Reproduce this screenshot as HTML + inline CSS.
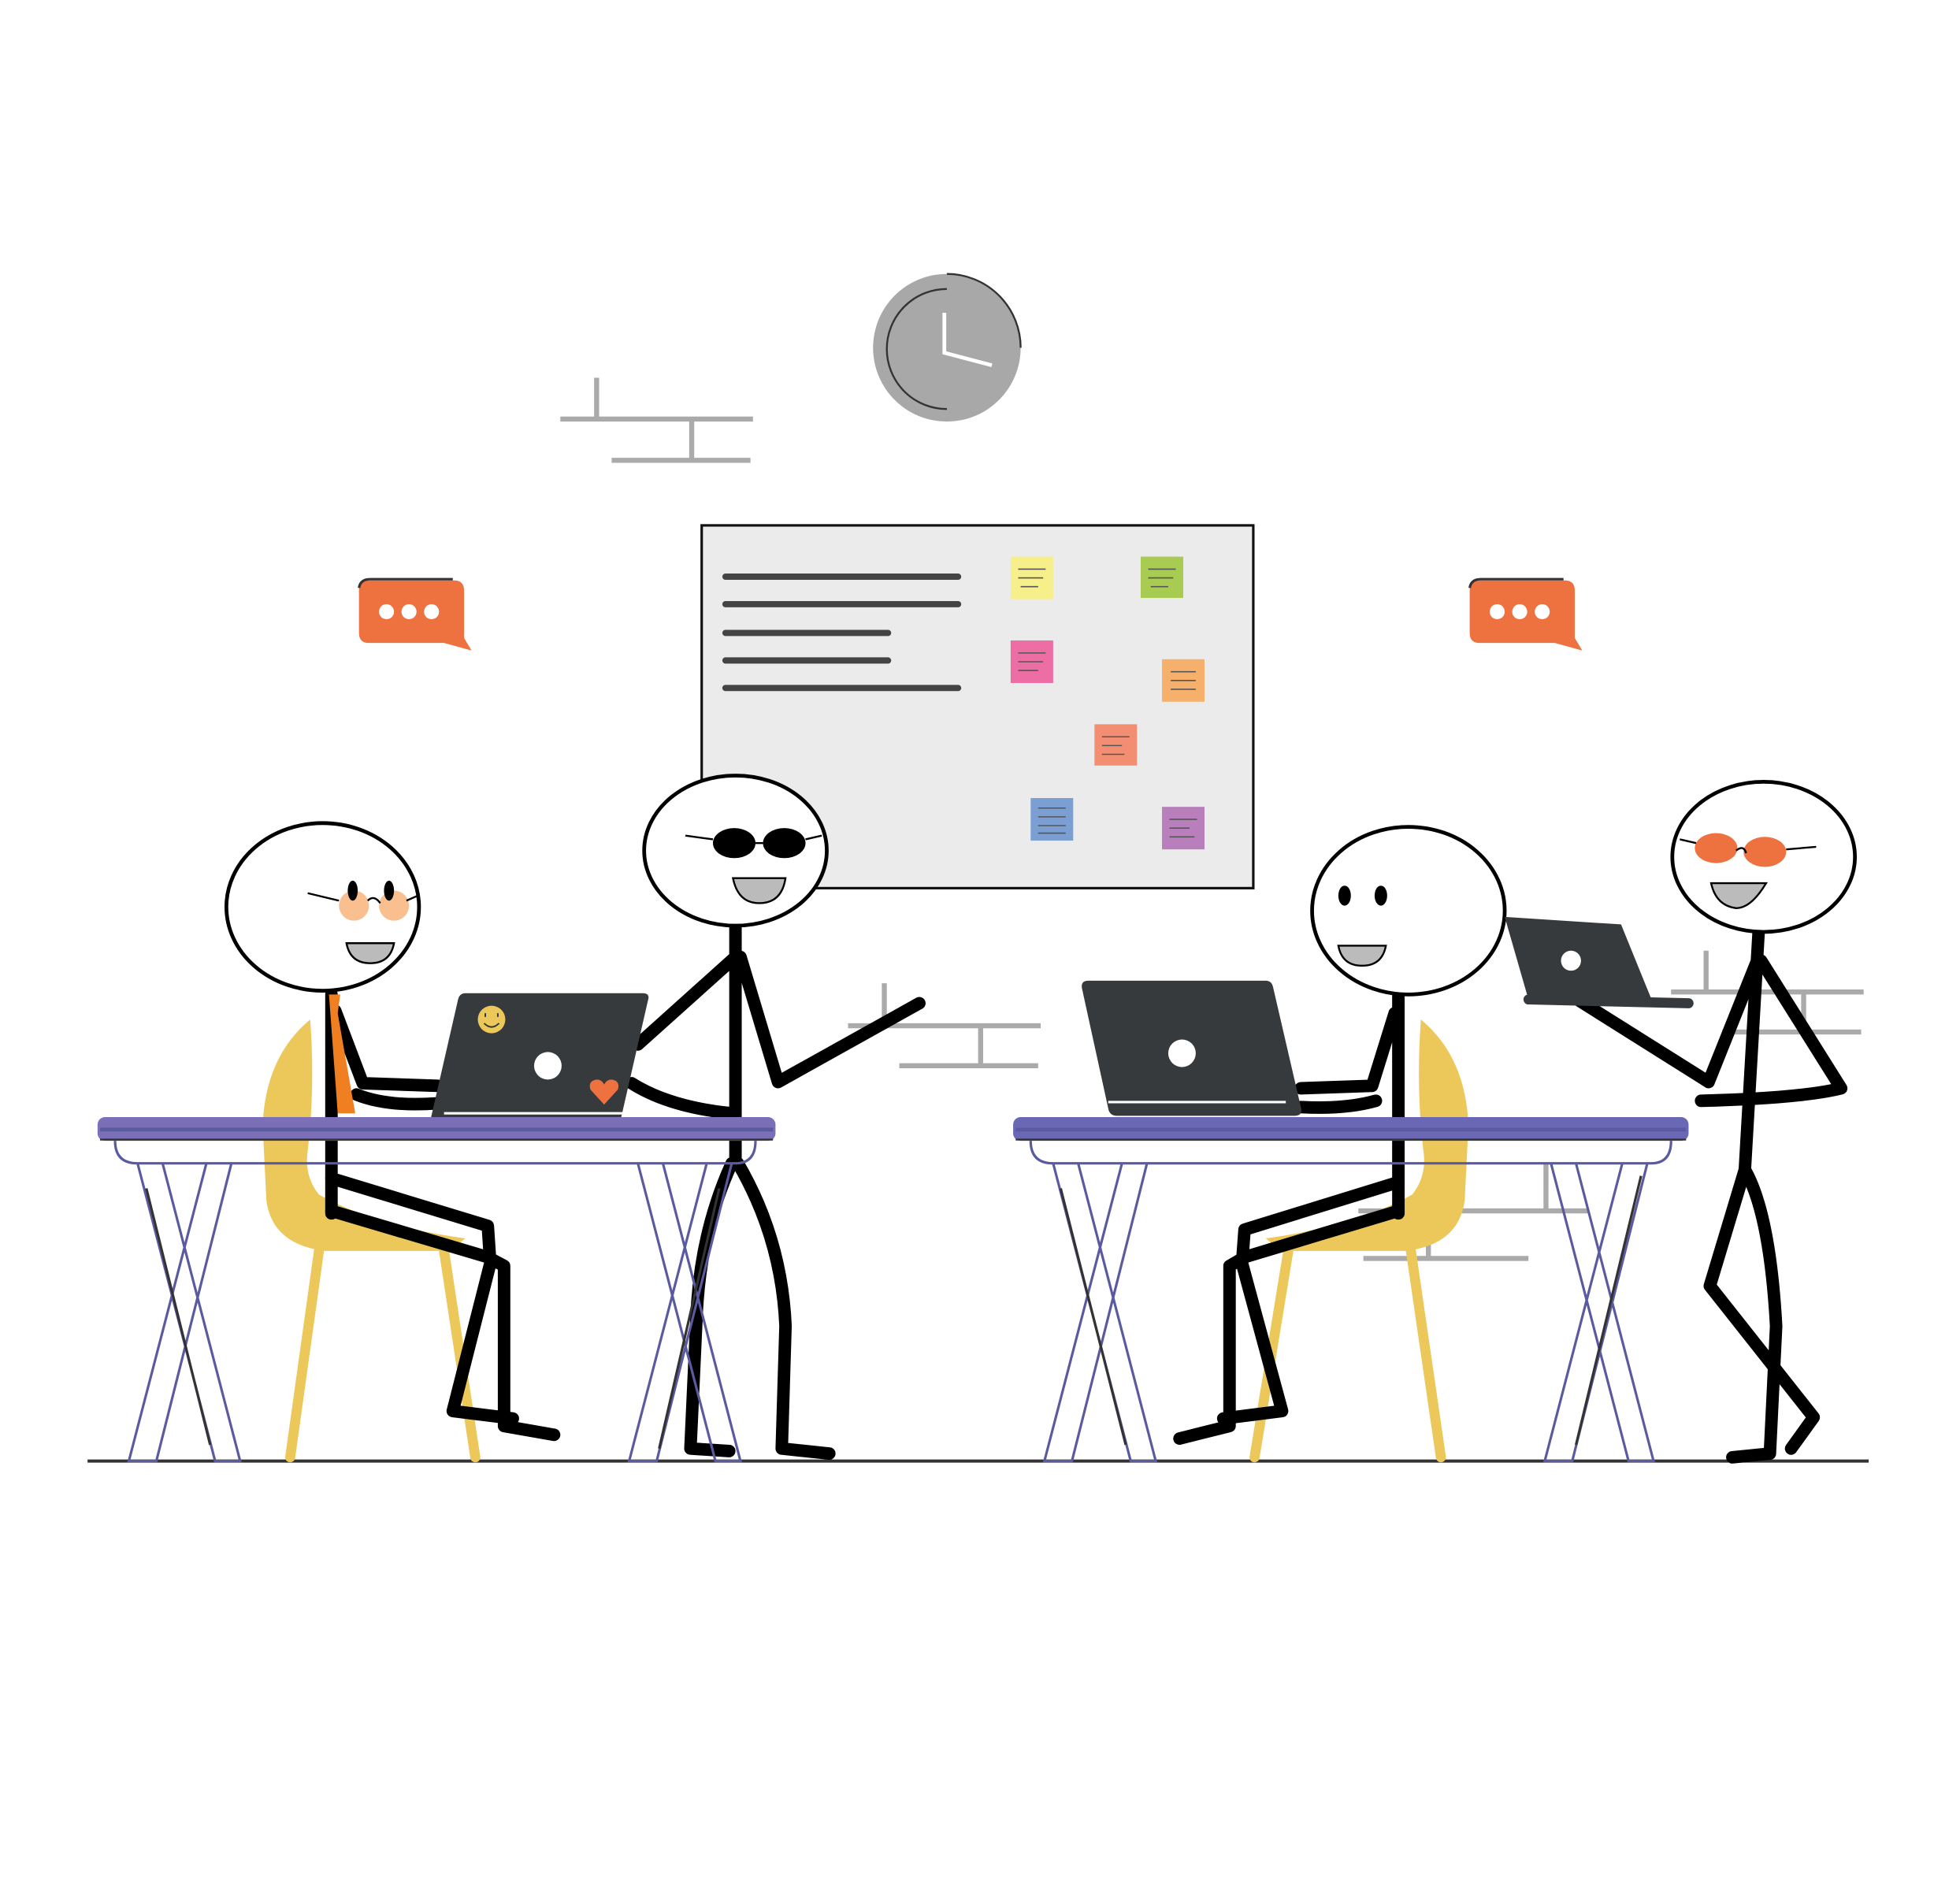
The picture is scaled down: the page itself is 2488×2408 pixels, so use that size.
<!DOCTYPE html>
<html><head><meta charset="utf-8"><style>html,body{margin:0;padding:0;background:#fff}svg{display:block}</style></head>
<body>
<svg width="2488" height="2408" viewBox="0 0 1567 1516.5" preserveAspectRatio="none" xmlns="http://www.w3.org/2000/svg">
<rect width="1567" height="1517" fill="#fff"/>
<g stroke="#aaa" stroke-width="4" fill="none">
<path d="M448 335H602M477 302V335M489 368H600M553 335V368"/>
<path d="M678 820H832M707 786V820M719 852H830M784 820V852"/>
<path d="M1336 793H1490M1364 760V793M1377 825H1488M1442 793V825"/>
<path d="M1086 968H1270M1236 930V968M1090 1006H1222M1142 968V1006"/>
</g>
<circle cx="757" cy="278" r="59" fill="#a8a8a8"/>
<path d="M757 327 A48 48 0 1 1 757 231" stroke="#333" stroke-width="1.5" fill="none"/>
<path d="M757 219 A59 59 0 0 1 816 278" stroke="#333" stroke-width="1.5" fill="none"/>
<path d="M755 250V282L793 292" stroke="#fff" stroke-width="3" fill="none"/>
<rect x="561" y="420" width="441" height="290" fill="#ebebeb" stroke="#111" stroke-width="2"/>
<g stroke="#444" stroke-width="5" stroke-linecap="round">
<path d="M580 461H766M580 483H766M580 506H710M580 528H710M580 550H766"/>
</g>
<rect x="808" y="445" width="34" height="34" fill="#f7f08a"/>
<rect x="912" y="445" width="34" height="33" fill="#a8cc52"/>
<rect x="808" y="512" width="34" height="34" fill="#ec6ea4"/>
<rect x="929" y="527" width="34" height="34" fill="#f6b06c"/>
<rect x="875" y="579" width="34" height="33" fill="#f48e72"/>
<rect x="824" y="638" width="34" height="34" fill="#7b9ed3"/>
<rect x="929" y="645" width="34" height="34" fill="#b87fbc"/>
<g stroke="#555" stroke-width="1">
<path d="M814 455H836M814 462H834M816 469H830"/>
<path d="M918 455H940M918 462H938M920 469H934"/>
<path d="M814 522H836M814 529H834M814 536H830"/>
<path d="M936 537H956M936 544H956M936 551H956"/>
<path d="M881 589H903M881 596H897M881 603H899"/>
<path d="M830 646H852M830 653H852M830 660H852M830 666H852"/>
<path d="M935 655H957M935 662H951M935 669H955"/>
</g>
<g fill="#ee7140">
<path d="M295 464H363Q371 464 371 472V510L377 520L355 514H295Q287 514 287 506V472Q287 464 295 464Z"/>
<path d="M1183 464H1251Q1259 464 1259 472V510L1265 520L1243 514H1183Q1175 514 1175 506V472Q1175 464 1183 464Z"/>
</g>
<path d="M287 470Q288 463 296 463H362" stroke="#333" stroke-width="2" fill="none"/>
<path d="M1175 470Q1176 463 1184 463H1250" stroke="#333" stroke-width="2" fill="none"/>
<g fill="#fff"><circle cx="309" cy="489" r="6"/><circle cx="327" cy="489" r="6"/><circle cx="345" cy="489" r="6"/>
<circle cx="1197" cy="489" r="6"/><circle cx="1215" cy="489" r="6"/><circle cx="1233" cy="489" r="6"/></g>
<path d="M70 1168H1494" stroke="#333" stroke-width="2.5"/>
<g fill="#ecc85a">
<path d="M248 815Q212 845 210 900L213 960Q218 995 260 1000H360L372 990Q300 980 255 955Q243 940 246 920Q252 870 248 815Z"/>
<path d="M1136 815Q1172 845 1174 900L1171 960Q1166 995 1124 1000H1024L1012 990Q1084 980 1129 955Q1141 940 1138 920Q1132 870 1136 815Z"/>
</g>
<g stroke="#ecc85a" stroke-width="8" stroke-linecap="round">
<path d="M255 1000L232 1165M355 1000L380 1165M1128 1000L1152 1165M1030 1000L1003 1165"/>
</g>
<g stroke="#000" stroke-width="10" fill="none" stroke-linecap="round" stroke-linejoin="round">
<path d="M265 795V970"/>
<path d="M265 968L390 1005L403 1012V1140L443 1147"/>
<path d="M265 942L390 980L392 1010L362 1128L410 1134"/>
<path d="M268 808L290 866L350 868"/>
<path d="M285 875Q310 885 350 882"/>
<path d="M588 740V930"/>
<path d="M588 765L510 835"/>
<path d="M505 866Q535 885 585 890"/>
<path d="M592 765L622 865L735 802"/>
<path d="M585 930Q560 985 557 1050L552 1158L583 1160"/>
<path d="M590 930Q625 990 628 1060L625 1158L663 1162"/>
<path d="M1118 795V970"/>
<path d="M1118 968L995 1005L983 1012V1140L943 1150"/>
<path d="M1118 945L995 983L993 1010L1025 1128L978 1134"/>
<path d="M1115 810L1097 868L1040 870"/>
<path d="M1100 880Q1075 887 1040 885"/>
<path d="M1406 745L1395 935"/>
<path d="M1404 770L1366 865L1258 797"/>
<path d="M1408 768L1472 870Q1440 878 1360 880"/>
<path d="M1395 935L1367 1028L1450 1133L1432 1158"/>
<path d="M1395 935Q1415 970 1420 1060L1415 1162L1385 1165"/>
</g>
<path d="M263 795H272L270 810L284 890H270Z" fill="#f07f22"/>
<g fill="#fff" stroke="#000" stroke-width="3">
<ellipse cx="258" cy="725" rx="77" ry="67"/>
<ellipse cx="588" cy="680" rx="73" ry="60"/>
<ellipse cx="1126" cy="728" rx="77" ry="67"/>
<ellipse cx="1410" cy="685" rx="73" ry="60"/>
</g>
<circle cx="283" cy="724" r="12" fill="#f9bf8f"/><circle cx="315" cy="724" r="12" fill="#f9bf8f"/>
<ellipse cx="282" cy="712" rx="4" ry="8" fill="#000"/><ellipse cx="311" cy="712" rx="4" ry="8" fill="#000"/>
<path d="M246 714L271 720M294 720Q299 715 304 722M325 720L334 716" stroke="#000" stroke-width="1.5" fill="none"/>
<ellipse cx="587" cy="674" rx="17" ry="12" fill="#000"/><ellipse cx="627" cy="674" rx="17" ry="12" fill="#000"/>
<path d="M548 668L570 671M604 674H610M644 671L657 668" stroke="#000" stroke-width="1.5"/>
<ellipse cx="1075" cy="716" rx="5" ry="8" fill="#000"/><ellipse cx="1104" cy="716" rx="5" ry="8" fill="#000"/>
<ellipse cx="1372" cy="678" rx="17" ry="12" fill="#ee7140"/><ellipse cx="1411" cy="681" rx="17" ry="12" fill="#ee7140"/>
<path d="M1343 671L1356 674M1388 680Q1394 675 1396 682M1428 679L1452 677" stroke="#000" stroke-width="1.5" fill="none"/>
<g fill="#bbb" stroke="#000" stroke-width="1.5">
<path d="M277 754H315Q312 770 296 770Q280 770 277 754Z"/>
<path d="M586 702H628Q625 722 607 722Q590 722 586 702Z"/>
<path d="M1070 756H1108Q1105 772 1089 772Q1073 772 1070 756Z"/>
<path d="M1368 706H1412Q1400 726 1388 726Q1372 724 1368 706Z"/>
</g>
<path d="M372 794H514Q520 794 518 800L496 896Q495 902 489 902H349Q342 902 344 896L366 800Q367 794 372 794Z" fill="#373a3d"/>
<circle cx="438" cy="852" r="11" fill="#fff"/>
<circle cx="393" cy="815" r="11" fill="#ecc85a"/>
<path d="M388 813V810M398 813V810M387 818Q393 824 399 818" stroke="#333" stroke-width="1.2" fill="none"/>
<path d="M483 883L472 871Q470 864 477 863Q481 863 483 867Q485 863 489 863Q496 864 494 871Z" fill="#ee7140"/>
<path d="M355 890H498" stroke="#fff" stroke-width="2"/>
<path d="M870 784H1012Q1017 784 1018 790L1040 885Q1042 892 1035 892H893Q887 892 886 886L865 790Q864 784 870 784Z" fill="#373a3d"/>
<circle cx="945" cy="842" r="11" fill="#fff"/>
<path d="M886 881H1028" stroke="#fff" stroke-width="2"/>
<path d="M1203 733L1296 739L1320 798L1222 799Z" fill="#373a3d"/>
<path d="M1222 799L1350 802" stroke="#373a3d" stroke-width="8" stroke-linecap="round"/>
<circle cx="1256" cy="768" r="8" fill="#fff"/>
<g stroke="#5a5aa0" stroke-width="2" fill="none">
<path d="M92 912Q92 930 110 930H588Q604 930 604 912"/>
<path d="M110 930L172 1168H192L130 930M165 930L103 1168H125L185 930"/>
<path d="M510 930L572 1168H592L530 930M565 930L503 1168H525L585 930"/>
<path d="M824 912Q824 930 842 930H1320Q1336 930 1336 912"/>
<path d="M842 930L904 1168H924L862 930M897 930L835 1168H857L917 930"/>
<path d="M1240 930L1302 1168H1322L1260 930M1297 930L1235 1168H1257L1317 930"/>
</g>
<path d="M117 950L168 1155M575 950L527 1158M848 950L900 1155M1312 940L1260 1155" stroke="#333" stroke-width="2"/>
<rect x="78" y="893" width="542" height="19" rx="6" fill="#7b6fb8"/>
<path d="M80 903H618" stroke="#5a5aa0" stroke-width="3"/>
<rect x="810" y="893" width="540" height="19" rx="6" fill="#6a68b4"/>
<path d="M812 903H1348" stroke="#5a5aa0" stroke-width="3"/>
<path d="M80 911H618M812 911H1348" stroke="#333" stroke-width="1.5"/>
</svg>
</body></html>
